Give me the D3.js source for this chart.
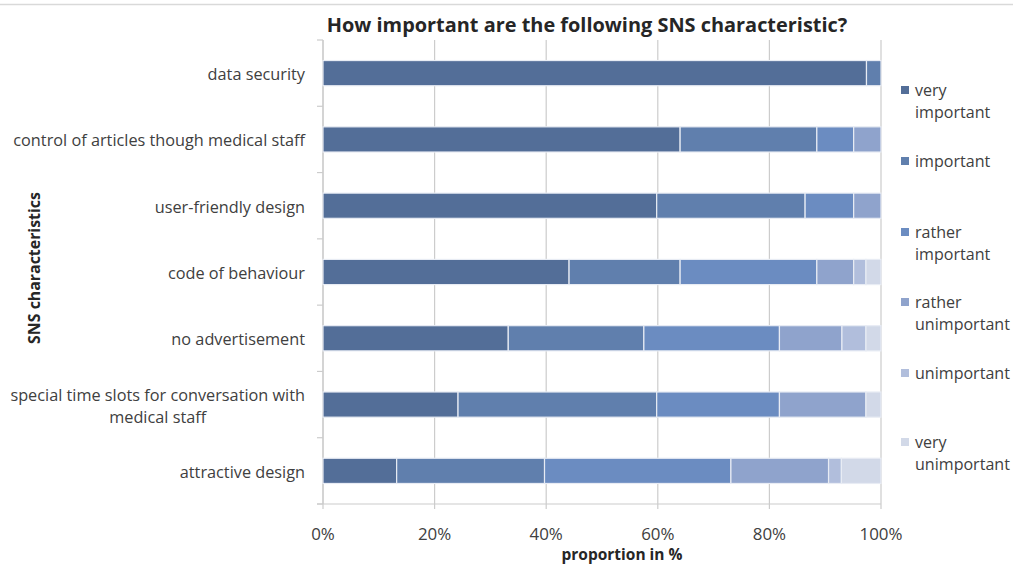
<!DOCTYPE html>
<html>
<head>
<meta charset="utf-8">
<script src="https://cdn.jsdelivr.net/npm/d3@7"></script>
<style>
  body { margin: 0; background: #fff; }
  svg { display: block; font-family: "Open Sans", Lato, sans-serif; }
</style>
</head>
<body>
<svg id="chart" width="1013" height="567"></svg>
<script>
const categories = [
  ["data security"],
  ["control of articles though medical staff"],
  ["user-friendly design"],
  ["code of behaviour"],
  ["no advertisement"],
  ["special time slots for conversation with", "medical staff"],
  ["attractive design"]
];
const seriesNames = [["very", "important"], ["important"], ["rather", "important"], ["rather", "unimportant"], ["unimportant"], ["very", "unimportant"]];
const veryImportant     = [97.4, 64.0, 59.8, 44.1, 33.2, 24.2, 13.2];
const important         = [2.6, 24.5, 26.6, 19.9, 24.3, 35.6, 26.5];
const ratherImportant   = [0, 6.6, 8.7, 24.5, 24.3, 22.0, 33.4];
const ratherUnimportant = [0, 4.9, 4.9, 6.6, 11.2, 15.5, 17.5];
const unimportant       = [0, 0, 0, 2.2, 4.3, 0, 2.3];
const veryUnimportant   = [0, 0, 0, 2.7, 2.7, 2.7, 7.1];
const xTicks = [0, 0.2, 0.4, 0.6, 0.8, 1.0];
const colors = ["#536e98", "#607fad", "#6b8cc1", "#8fa3cc", "#b1bedc", "#d2d9e8"];

const series = [veryImportant, important, ratherImportant, ratherUnimportant, unimportant, veryUnimportant];
const rows = categories.map((c, i) => {
  const vals = series.map(s => s[i]);
  const total = d3.sum(vals);
  let acc = 0;
  return vals.map((v, k) => { const x0 = acc / total; acc += v; return { row: i, k, x0, x1: acc / total }; });
});

const svg = d3.select("#chart");
const pLeft = 323, pRight = 881, pTop = 40, pBottom = 504;
const x = d3.scaleLinear().domain([0, 1]).range([pLeft, pRight]);
const y = d3.scaleBand().domain(d3.range(categories.length)).range([pTop, pBottom]).paddingInner(0.62).paddingOuter(0.31);
const band = d3.scaleBand().domain(d3.range(categories.length)).range([pTop, pBottom]);

const textCol = "#404040";
const gridCol = "#cccccc";

// scale a text's font-size so that its width matches a target
function fitSize(str, weight, target) {
  const t = svg.append("text").attr("font-size", 20).attr("font-weight", weight).text(str);
  const w = t.node().getComputedTextLength();
  t.remove();
  return 20 * target / w;
}
const fsTitle = fitSize("How important are the following SNS characteristic?", "bold", 521);
const fsCat = fitSize("control of articles though medical staff", "normal", 292);
const fsLegend = fitSize("unimportant", "normal", 95);
const fsTick = fitSize("100%", "normal", 43);
const fsXTitle = fitSize("proportion in %", "bold", 121);
const fsYTitle = fitSize("SNS characteristics", "bold", 152);

// top frame line
svg.append("line").attr("x1", 0).attr("x2", 1013).attr("y1", 4.5).attr("y2", 4.5).attr("stroke", "#d9d9d9").attr("stroke-width", 1.5);

// gridlines
svg.append("g").selectAll("line").data(xTicks).join("line")
  .attr("x1", d => x(d)).attr("x2", d => x(d))
  .attr("y1", pTop).attr("y2", pBottom + 5)
  .attr("stroke", gridCol).attr("stroke-width", 1.2);

// x axis line
svg.append("line").attr("x1", pLeft - 6).attr("x2", pRight).attr("y1", pBottom).attr("y2", pBottom).attr("stroke", gridCol).attr("stroke-width", 1.2);
// y axis line
svg.append("line").attr("x1", pLeft).attr("x2", pLeft).attr("y1", pTop).attr("y2", pBottom).attr("stroke", gridCol).attr("stroke-width", 1.2);
// y ticks at band boundaries
svg.append("g").selectAll("line").data(d3.range(categories.length + 1)).join("line")
  .attr("x1", pLeft - 6).attr("x2", pLeft)
  .attr("y1", d => pTop + d * band.step()).attr("y2", d => pTop + d * band.step())
  .attr("stroke", gridCol).attr("stroke-width", 1.2);

// bars
svg.append("g").selectAll("g").data(rows).join("g")
  .selectAll("rect").data(d => d.filter(s => s.x1 > s.x0)).join("rect")
  .attr("x", d => x(d.x0)).attr("width", d => x(d.x1) - x(d.x0))
  .attr("y", d => y(d.row))
  .attr("height", y.bandwidth())
  .attr("fill", d => colors[d.k])
  .attr("stroke", "#e8ecf4").attr("stroke-width", 1.2);

// x tick labels
svg.append("g").selectAll("text").data(xTicks).join("text")
  .attr("x", d => x(d)).attr("y", 540)
  .attr("text-anchor", "middle").attr("font-size", fsTick).attr("fill", textCol)
  .text(d => d3.format(".0%")(d));

// category labels
const catG = svg.append("g").selectAll("text").data(categories).join("text")
  .attr("text-anchor", "end").attr("font-size", fsCat).attr("fill", textCol)
  .attr("y", (d, i) => y(i) + y.bandwidth() / 2 + 7 - (d.length - 1) * 11);
catG.selectAll("tspan").data(d => d).join("tspan")
  .attr("x", 305)
  .attr("dy", (d, i) => i === 0 ? 0 : 22)
  .text(d => d);
catG.each(function(d) {
  if (d.length > 1) {
    const ts = d3.select(this).selectAll("tspan").nodes();
    const w0 = ts[0].getComputedTextLength();
    const cx = 305 - w0 / 2;
    d3.select(this).attr("text-anchor", "middle");
    ts.forEach(t => t.setAttribute("x", cx));
  }
});

// title
svg.append("text").attr("x", 587).attr("y", 32).attr("text-anchor", "middle")
  .attr("font-size", fsTitle).attr("font-weight", "bold").attr("fill", "#262626")
  .text("How important are the following SNS characteristic?");

// axis titles
svg.append("text").attr("x", 622).attr("y", 560).attr("text-anchor", "middle")
  .attr("font-size", fsXTitle).attr("font-weight", "bold").attr("fill", "#262626")
  .text("proportion in %");
svg.append("text").attr("transform", "translate(40,268) rotate(-90)").attr("text-anchor", "middle")
  .attr("font-size", fsYTitle).attr("font-weight", "bold").attr("fill", "#262626")
  .text("SNS characteristics");

// legend
const legendY = [90, 161, 232, 302, 373, 442];
const lg = svg.append("g").selectAll("g").data(seriesNames).join("g")
  .attr("transform", (d, i) => `translate(901,${legendY[i]})`);
lg.append("rect").attr("x", 0).attr("y", -4).attr("width", 8).attr("height", 8).attr("fill", (d, i) => colors[i]);
lg.append("text").attr("font-size", fsLegend).attr("fill", textCol).attr("y", 5.5)
  .selectAll("tspan").data(d => d).join("tspan")
  .attr("x", 14).attr("dy", (d, i) => i === 0 ? 0 : 22.5).text(d => d);
</script>
</body>
</html>
